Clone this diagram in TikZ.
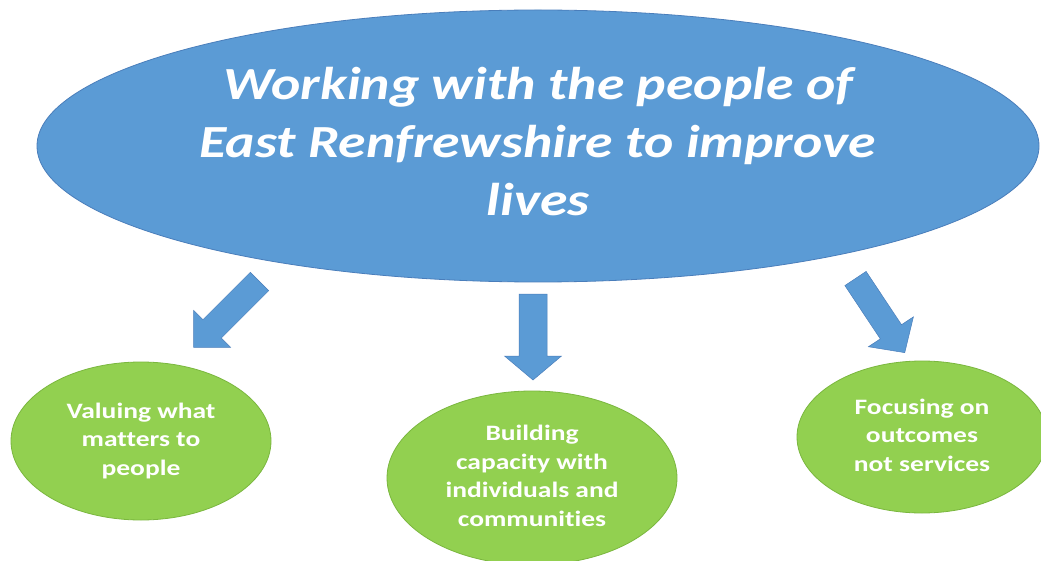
\documentclass[tikz,border=0pt]{standalone}
\usepackage{fontspec}
\setmainfont{Carlito}[Ligatures=NoCommon]
\usetikzlibrary{shapes.geometric}
\definecolor{mainblue}{RGB}{91,155,213}
\definecolor{blueedge}{RGB}{74,126,187}
\definecolor{leafgreen}{RGB}{146,208,80}
\definecolor{greenedge}{RGB}{122,183,62}
\tikzset{
  mainoval/.style={ellipse, fill=mainblue, draw=blueedge, line width=0.8pt, inner sep=0pt,
    text=white, font=\bfseries\itshape\fontsize{46}{58}\selectfont},
  leafoval/.style={ellipse, fill=leafgreen, draw=greenedge, line width=0.8pt, inner sep=0pt,
    text=white, font=\bfseries\fontsize{22}{28.5}\selectfont},
  blockarrow/.style={fill=mainblue, draw=blueedge, line width=0.5pt, line join=miter}
}
\newcommand{\widetext}[3]{\raisebox{#2}{\scalebox{#1}[1]{\begin{tabular}{@{}c@{}}#3\end{tabular}}}}
% #1 tail centre, #2 angle, #3 length, #4 shaft half width, #5 head half width, #6 head length
\newcommand{\myblockarrow}[6]{%
  \begin{scope}[shift={#1}, rotate=#2]
    \draw[blockarrow] (0,-#4) -- ({#3-#6},-#4) -- ({#3-#6},-#5) -- (#3,0)
      -- ({#3-#6},#5) -- ({#3-#6},#4) -- (0,#4) -- cycle;
  \end{scope}}
\begin{document}
\begin{tikzpicture}[x=1pt,y=-1pt]
\useasboundingbox (0,0) rectangle (1041,561);
\fill[white] (0,0) rectangle (1041,561);
\clip (0,0) rectangle (1041,561);

\node[mainoval, minimum width=1002pt, minimum height=272pt] (main) at (538,146)
  {\widetext{1.21}{-1pt}{Working with the people of\\East Renfrewshire to improve\\lives}};

\node[leafoval, minimum width=260pt, minimum height=158pt] (values) at (141,441)
  {\widetext{1.25}{-3pt}{Valuing what\\matters to\\people}};
\node[leafoval, minimum width=290pt, minimum height=174pt] (capacity) at (532,478)
  {\widetext{1.25}{-2pt}{Building\\capacity with\\individuals and\\communities}};
\node[leafoval, minimum width=250pt, minimum height=152pt] (outcomes) at (922,437)
  {\widetext{1.25}{-2pt}{Focusing on\\outcomes\\not services}};

\myblockarrow{(259.5,281.5)}{-135}{93}{13}{26}{26}
\myblockarrow{(533,294)}{-90}{86}{14}{28.5}{24}
\myblockarrow{(855.5,278.5)}{-56.4}{89}{12.75}{27}{25}
\end{tikzpicture}
\end{document}
